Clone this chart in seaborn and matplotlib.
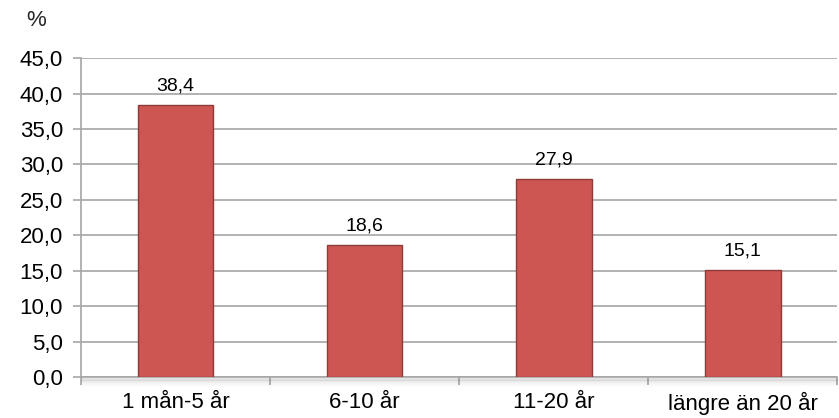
import matplotlib
matplotlib.use("Agg")
import matplotlib.pyplot as plt
import seaborn as sns
import numpy as np
import pandas as pd

categories = ["1 mån-5 år", "6-10 år", "11-20 år", "längre än 20 år"]
values = [38.4, 18.6, 27.9, 15.1]
yticks = [0, 5, 10, 15, 20, 25, 30, 35, 40, 45]

sns.set_theme(style="white")
plt.rcParams["font.family"] = ["Liberation Sans", "DejaVu Sans"]

df = pd.DataFrame({"kategori": categories, "andel": values})

fig = plt.figure(figsize=(8.39, 4.18), dpi=100)
ax = fig.add_axes([0.0965, 0.098, 0.9015, 0.763])

sns.barplot(data=df, x="kategori", y="andel", ax=ax, color="#CD5653",
            width=0.4, saturation=1, edgecolor="#8E3A37", linewidth=1.0,
            zorder=3)

ax.set_ylim(0, 45)
ax.set_xlim(-0.5, len(categories) - 0.5)
ax.set_yticks(yticks)
ax.set_yticklabels([f"{t:.1f}".replace(".", ",") for t in yticks], fontsize=16)
ax.yaxis.grid(True, color="#A6A6A6", linewidth=1.2, zorder=0)
ax.set_axisbelow(True)

# category boundaries as tick marks, labels centred under the bars
ax.set_xticks(np.arange(len(categories)))
ax.set_xticklabels(categories, fontsize=16)
ax.tick_params(axis="x", which="major", length=0, pad=10.5, colors="black")
ax.set_xticks(np.arange(len(categories) + 1) - 0.5, minor=True)
ax.tick_params(axis="x", which="minor", length=6, width=1.2, color="#A6A6A6",
               direction="out", bottom=True)
ax.tick_params(axis="y", length=6, width=1.2, color="#A6A6A6", left=True,
               pad=7, labelcolor="black")

for s in ["top", "right"]:
    ax.spines[s].set_visible(False)
for s in ["left", "bottom"]:
    ax.spines[s].set_color("#A6A6A6")
    ax.spines[s].set_linewidth(1.2)

ax.set_xlabel("")
ax.set_ylabel("")

# soft shadow beneath the category axis
for i, a in enumerate(np.linspace(0.18, 0.0, 10)):
    ax.axhline(-0.12 * (i + 1), color="gray", alpha=a, linewidth=1.0,
               clip_on=False, zorder=1)

for i, v in enumerate(values):
    ax.text(i, v + 1.5, f"{v:.1f}".replace(".", ","), ha="center",
            va="bottom", fontsize=14, color="black")

fig.text(0.043, 0.950, "%", fontsize=16, ha="center", va="center")

fig.savefig("out.png", dpi=100)
